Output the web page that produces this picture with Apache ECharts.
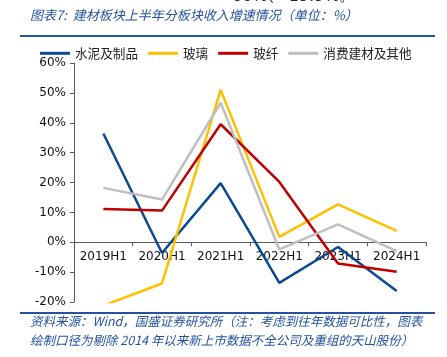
<!DOCTYPE html>
<html><head><meta charset="utf-8">
<script src="https://cdn.jsdelivr.net/npm/echarts@6/dist/echarts.min.js"></script>
<style>html,body{margin:0;padding:0;background:#fff}#c{width:447px;height:357px}</style>
</head><body><div id="c"></div>
<script>
const categories = ['2019H1','2020H1','2021H1','2022H1','2023H1','2024H1'];
const cement = [36.4, -3.6, 19.8, -13.6, -1.6, -16.3];
const glass = [-21.2, -13.8, 51.0, 1.8, 12.7, 3.8];
const fiber = [11.1, 10.6, 39.5, 20.2, -7.1, -9.9];
const consumer = [18.2, 14.3, 46.7, -2.4, 6.0, -3.0];
const seriesNames = ['水泥及制品','玻璃','玻纤','消费建材及其他'];
const yTicks = {min: -20, max: 60, interval: 10};

const colors = ['#0B4A8F','#FFC000','#C00000','#BFBFBF'];
const dataSets = [cement, glass, fiber, consumer];
const blue = '#2452A0';
const gridTop = 63, gridBottom = 55, H = 357;
const gridH = H - gridTop - gridBottom;
const zeroOffset = -gridH * (0 - yTicks.min) / (yTicks.max - yTicks.min);
const chart = echarts.init(document.getElementById('c'));
chart.setOption({
  animation: false,
  grid: {left: 74, right: 21, top: gridTop, bottom: gridBottom},
  legend: {
    left: 35, top: 42, itemWidth: 30, itemHeight: 3, itemGap: 10, icon: 'rect',
    textStyle: {fontFamily: 'Noto Sans CJK SC', fontSize: 12.6, color: '#222'},
    data: seriesNames
  },
  xAxis: {
    type: 'category', data: categories, offset: zeroOffset,
    axisLine: {onZero: false, lineStyle: {color: '#595959', width: 1}},
    axisTick: {show: true, length: 4, lineStyle: {color: '#595959'}},
    axisLabel: {interval: 0, fontFamily: 'DejaVu Sans', fontSize: 12, color: '#111', margin: 9}
  },
  yAxis: {
    type: 'value', min: yTicks.min, max: yTicks.max, interval: yTicks.interval,
    axisLine: {show: true, lineStyle: {color: '#595959', width: 1}},
    axisTick: {show: true, length: 4, lineStyle: {color: '#595959'}},
    splitLine: {show: false},
    axisLabel: {formatter: '{value}%', fontFamily: 'DejaVu Sans', fontSize: 12, color: '#111', margin: 8}
  },
  series: seriesNames.map((n, i) => ({
    name: n, type: 'line', data: dataSets[i], symbol: 'none', clip: true,
    lineStyle: {color: colors[i], width: 2.5}, itemStyle: {color: colors[i]}
  })),
  graphic: [
    {type: 'text', left: 232, top: -11, style: {text: '60%、 19.9%。', fontFamily: 'DejaVu Sans', fontSize: 16, fill: '#222'}},
    {type: 'text', left: 30, top: 9, style: {text: '图表7:  建材板块上半年分板块收入增速情况（单位：%）', fontFamily: 'Noto Sans CJK SC', fontSize: 13, fontStyle: 'italic', fill: blue}},
    {type: 'rect', shape: {x: 20, y: 35, width: 415, height: 2}, style: {fill: blue}},
    {type: 'rect', shape: {x: 20, y: 312, width: 415, height: 2}, style: {fill: blue}},
    {type: 'text', left: 30, top: 315, style: {text: '资料来源：Wind，国盛证券研究所（注：考虑到往年数据可比性，图表', fontFamily: 'Noto Sans CJK SC', fontSize: 12.5, fontStyle: 'italic', fill: blue}},
    {type: 'text', left: 30, top: 334, style: {text: '绘制口径为剔除 2014 年以来新上市数据不全公司及重组的天山股份）', fontFamily: 'Noto Sans CJK SC', fontSize: 12.5, fontStyle: 'italic', fill: blue}}
  ]
});
</script></body></html>
